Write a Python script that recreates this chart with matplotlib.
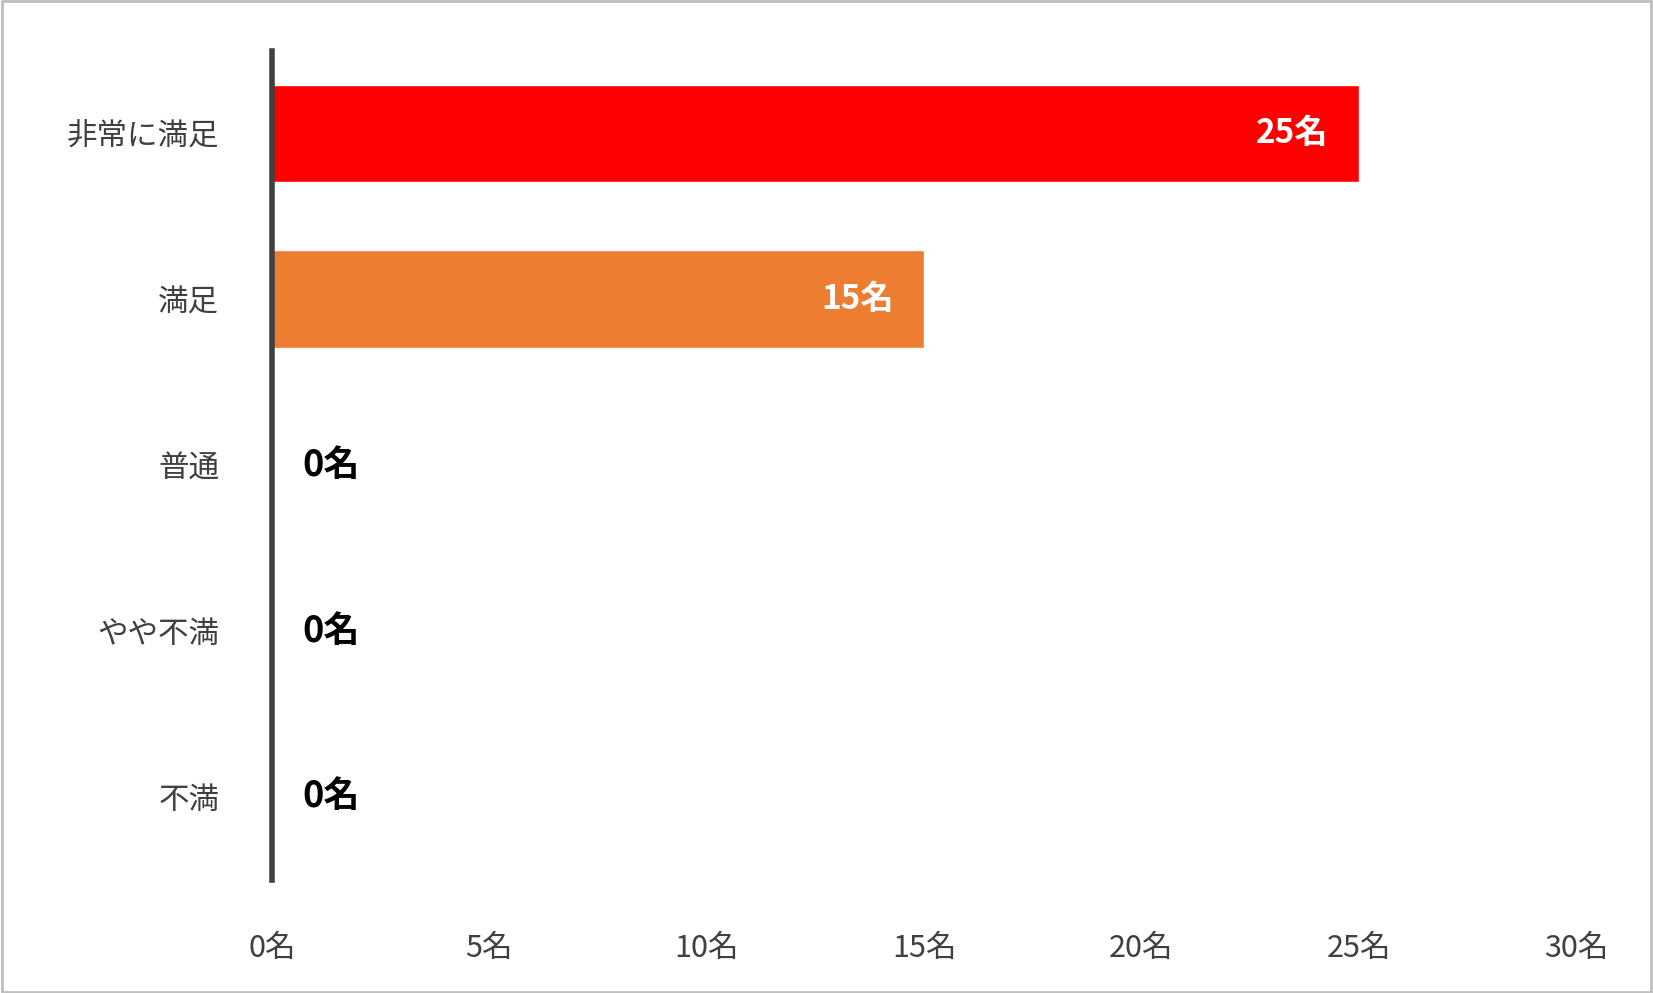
import matplotlib.pyplot as plt
from matplotlib.patches import Rectangle

plt.rcParams['font.family'] = ['Noto Sans CJK JP', 'DejaVu Sans']

categories = ["非常に満足", "満足", "普通", "やや不満", "不満"]
counts = [25, 15, 0, 0, 0]
colors = ["#FF0000", "#ED7D31", "#A5A5A5", "#FFC000", "#5B9BD5"]
xticks = [0, 5, 10, 15, 20, 25, 30]

fig = plt.figure(figsize=(16.53, 9.93), dpi=100)
ax = fig.add_axes([0.1645, 0.114, 0.789, 0.835])

y = list(range(len(categories)))
ax.barh(y, counts, height=0.59, color=colors, edgecolor="white", linewidth=1)
ax.set_ylim(len(categories) - 0.5, -0.5)
ax.set_xlim(0, 30)

for yi, v in zip(y, counts):
    if v > 0:
        ax.text(v - 0.7, yi, f"{v}名", ha="right", va="center", color="white",
                fontsize=24, fontweight="bold")
    else:
        ax.text(0.7, yi, f"{v}名", ha="left", va="center", color="black",
                fontsize=26, fontweight="bold")

ax.set_yticks(y)
ax.set_yticklabels(categories, fontsize=22, color="#404040")
ax.set_xticks(xticks)
ax.set_xticklabels([f"{t}名" for t in xticks], fontsize=22, color="#404040")
ax.tick_params(axis="both", length=0)
ax.tick_params(axis="y", pad=38)
ax.tick_params(axis="x", pad=38)
for s in ["top", "right", "bottom"]:
    ax.spines[s].set_visible(False)
ax.spines["left"].set_linewidth(4)
ax.spines["left"].set_color("#404040")

fig.patches.append(Rectangle((0.001, 0.001), 0.998, 0.998, transform=fig.transFigure,
                             fill=False, edgecolor="#BFBFBF", linewidth=2))

fig.savefig("out.png", dpi=100, facecolor="white")
